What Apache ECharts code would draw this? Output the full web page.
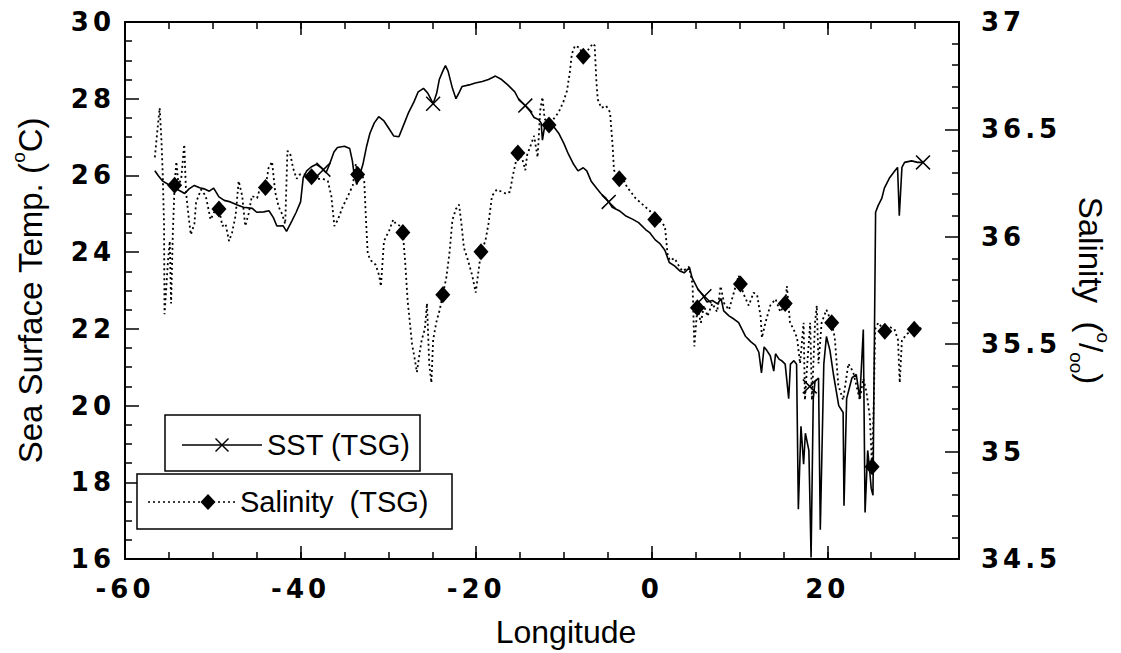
<!DOCTYPE html>
<html>
<head>
<meta charset="utf-8">
<title>SST and Salinity (TSG) vs Longitude</title>
<script src="https://cdn.jsdelivr.net/npm/echarts@6/dist/echarts.min.js"></script>
<style>
  html, body { margin: 0; padding: 0; background: #fff; }
  #chart { width: 1121px; height: 653px; }
  /* tick numbers are set with open tracking */
  #chart svg text[style*="bold"] { letter-spacing: 4px; }
</style>
</head>
<body>
<div id="chart"></div>
<script>
// Thermosalinograph record along the ship track (longitude, degrees)
const sstLon = [
  -56.6,-56.2,-55.7,-55.1,-54.4,-53.6,-53.2,-52.7,-52.1,-51.5,-51.0,-50.4,-49.9,-49.3,-48.7,-48.0,-47.2,-46.5,-45.5,-45.0,
  -44.2,-43.6,-43.1,-42.7,-42.0,-41.6,-41.0,-40.5,-40.0,-39.7,-39.3,-38.8,-38.2,-37.6,-37.1,-36.7,-36.2,-35.8,-35.0,-34.4,
  -34.1,-33.9,-33.6,-33.3,-32.9,-32.5,-32.1,-31.6,-31.1,-30.5,-29.9,-29.4,-28.8,-28.2,-27.7,-27.1,-26.6,-26.0,-25.5,-24.9,
  -24.5,-24.2,-23.8,-23.5,-23.2,-22.7,-22.3,-21.9,-21.6,-20.8,-20.1,-19.3,-18.6,-17.8,-17.1,-16.4,-15.6,-15.1,-14.4,-13.9,
  -13.4,-12.9,-12.6,-12.45,-12.2,-11.7,-11.2,-10.6,-10.0,-9.5,-8.9,-8.4,-7.8,-7.4,-6.9,-6.3,-5.8,-5.2,-4.9,-4.5,
  -3.7,-3.0,-2.2,-1.5,-0.7,-0.2,0.4,0.9,1.5,2.0,2.6,3.2,3.7,4.3,4.6,5.2,5.8,6.3,6.9,7.5,
  7.9,8.2,8.8,9.4,9.9,10.3,10.7,11.3,11.8,12.2,12.5,12.8,13.1,13.5,13.9,14.1,14.5,14.8,15.2,15.6,
  15.8,16.2,16.5,16.7,17.0,17.3,17.5,17.9,18.15,18.4,18.6,19.0,19.2,19.6,19.9,20.3,20.7,21.3,21.8,21.9,
  22.2,22.8,23.3,23.7,24.1,24.3,24.6,24.8,25.0,25.2,25.3,25.5,25.8,26.2,26.5,27.1,27.7,28.0,28.2,28.5,
  28.8,29.6,30.3,30.9
];
// Sea surface temperature, deg C
const sstTemp = [
  26.12,25.99,25.85,25.77,25.68,25.58,25.53,25.65,25.74,25.68,25.65,25.59,25.67,25.44,25.35,25.31,25.23,25.17,25.14,25.04,
  25.05,25.08,24.90,24.68,24.69,24.54,24.81,25.04,25.31,25.94,26.12,26.22,26.29,26.19,26.07,26.29,26.61,26.73,26.76,26.70,
  26.38,26.03,25.76,25.98,26.29,26.74,27.10,27.37,27.53,27.42,27.21,27.03,27.01,27.35,27.64,27.91,28.18,28.27,28.14,27.87,
  28.14,28.50,28.72,28.86,28.72,28.27,28.00,28.18,28.32,28.36,28.41,28.45,28.50,28.59,28.50,28.36,28.18,27.96,27.82,27.69,
  27.51,27.46,27.37,26.92,27.28,27.37,27.28,27.10,26.83,26.56,26.29,26.12,26.20,26.12,25.85,25.67,25.53,25.40,25.31,25.17,
  25.08,24.95,24.86,24.77,24.59,24.50,24.32,24.23,24.05,23.73,23.64,23.51,23.46,23.60,23.33,23.06,22.88,22.70,22.74,22.65,
  22.79,22.47,22.34,22.25,22.16,21.98,21.80,21.66,21.57,21.39,20.85,21.53,21.44,21.30,20.90,21.35,21.21,21.17,21.08,20.18,
  21.08,21.17,21.08,17.30,19.46,18.47,19.28,18.83,16.04,20.18,20.63,20.72,16.76,21.08,21.80,21.44,20.81,20.00,19.82,17.39,
  20.18,20.72,20.81,20.18,21.98,17.21,18.83,18.38,17.84,17.66,20.18,25.04,25.22,25.40,25.67,25.94,26.12,26.21,24.95,26.21,
  26.34,26.38,26.34,26.34
];

const salLon = [
  -56.6,-56.3,-56.05,-55.85,-55.7,-55.55,-55.5,-55.3,-55.1,-54.9,-54.75,-54.55,-54.35,-54.15,-53.9,-53.6,-53.25,-53.05,-52.8,-52.5,
  -52.1,-51.9,-51.35,-50.8,-50.25,-49.65,-49.3,-48.9,-48.55,-48.15,-47.8,-47.4,-47.05,-46.65,-46.3,-45.9,-45.55,-44.95,-44.6,-44.0,
  -43.65,-43.25,-42.9,-42.5,-42.15,-41.75,-41.5,-41.2,-40.85,-40.45,-40.1,-39.5,-38.75,-38.2,-37.45,-36.9,-36.5,-36.15,-35.75,-35.2,
  -34.6,-34.05,-33.7,-33.5,-33.2,-32.75,-32.55,-32.35,-32.0,-31.45,-31.05,-30.85,-30.5,-29.9,-29.45,-29.15,-28.6,-28.35,-28.1,-27.8,
  -27.3,-26.95,-26.75,-26.4,-26.2,-25.85,-25.6,-25.35,-25.1,-24.9,-24.55,-24.15,-23.8,-23.4,-23.05,-22.7,-22.3,-21.95,-21.65,-21.4,
  -21.0,-20.45,-20.05,-19.45,-18.95,-18.6,-18.2,-17.65,-17.1,-16.55,-16.15,-15.8,-15.25,-14.8,-14.4,-14.2,-13.75,-13.4,-13.0,-12.7,
  -12.45,-12.2,-11.7,-11.15,-10.6,-10.05,-9.65,-9.35,-9.1,-8.75,-8.2,-7.8,-7.25,-6.7,-6.5,-6.3,-6.15,-5.75,-5.2,-4.75,
  -4.45,-4.3,-3.7,-3.15,-2.8,-2.4,-1.85,-1.3,-0.75,-0.2,0.35,0.95,1.5,1.8,2.05,2.6,3.15,3.5,4.25,4.65,
  4.85,5.2,5.6,5.95,6.35,6.9,7.45,7.85,8.25,8.8,9.35,9.9,10.1,10.5,11.05,11.6,12.0,12.4,12.55,12.95,
  13.5,14.1,14.65,15.2,15.4,15.75,16.15,16.55,16.9,17.3,17.45,17.65,18.05,18.25,18.6,18.8,19.0,19.35,19.9,20.5,
  20.85,21.25,21.8,22.4,22.95,23.3,23.7,24.1,24.45,24.85,25.1,25.3,25.45,25.8,26.55,27.1,27.65,28.05,28.25,28.5,
  29.15,29.9,30.5,30.9
];
// Salinity, per mil
const salValue = [
  36.37,36.50,36.60,36.45,36.29,36.05,35.64,35.76,35.89,35.98,35.69,36.02,36.24,36.35,36.24,36.27,36.43,36.21,36.11,36.01,
  36.06,36.16,36.22,36.19,36.08,36.13,36.13,36.05,36.06,35.98,36.02,36.10,36.26,36.19,36.05,36.11,36.19,36.18,36.23,36.23,
  36.32,36.35,36.21,36.14,36.11,36.06,36.40,36.39,36.32,36.27,36.29,36.29,36.28,36.27,36.27,36.26,36.19,36.05,36.08,36.14,
  36.19,36.24,36.34,36.29,36.31,36.26,36.08,35.92,35.89,35.87,35.82,35.77,35.98,36.03,36.08,36.06,36.05,36.02,35.89,35.70,
  35.50,35.42,35.37,35.47,35.52,35.57,35.69,35.41,35.32,35.52,35.60,35.66,35.73,35.81,35.92,36.08,36.13,36.15,36.05,35.95,
  35.90,35.82,35.74,35.93,35.98,36.06,36.19,36.22,36.21,36.20,36.21,36.29,36.39,36.37,36.31,36.38,36.43,36.47,36.37,36.59,
  36.65,36.55,36.52,36.55,36.58,36.63,36.68,36.76,36.85,36.89,36.88,36.84,36.87,36.90,36.89,36.72,36.64,36.60,36.61,36.58,
  36.42,36.31,36.27,36.26,36.23,36.21,36.18,36.16,36.14,36.12,36.08,36.07,36.05,35.92,35.89,35.90,35.86,35.84,35.86,35.78,
  35.49,35.67,35.60,35.68,35.63,35.69,35.65,35.77,35.69,35.66,35.74,35.82,35.78,35.73,35.68,35.74,35.73,35.63,35.53,35.60,
  35.68,35.71,35.65,35.69,35.77,35.60,35.57,35.53,35.41,35.60,35.24,35.37,35.60,35.24,35.60,35.68,35.41,35.60,35.66,35.60,
  35.53,35.31,35.24,35.41,35.37,35.31,35.24,35.34,35.28,35.16,34.92,35.24,35.57,35.60,35.56,35.58,35.57,35.52,35.32,35.52,
  35.55,35.57,35.58,35.56
];

// Marker positions along each record
const sstMarkLon  = [-37.4, -24.9, -14.4, -4.9, 6.0, 18.0, 30.9];
const sstMarkTemp = [26.15, 27.87, 27.82, 25.31, 22.85, 20.5, 26.34];
const salMarkLon  = [-54.35,-49.3,-44.0,-38.75,-33.5,-28.35,-23.8,-19.45,-15.25,-11.7,-7.8,-3.7,0.35,5.2,10.1,15.2,20.5,25.1,26.55,29.9];
const salMarkVal  = [36.24,36.13,36.23,36.28,36.29,36.02,35.73,35.93,36.39,36.52,36.84,36.27,36.08,35.67,35.78,35.69,35.60,34.93,35.56,35.57];

// Axis ranges and tick labels
const lonRange = [-60, 35];
const lonLabels = [-60, -40, -20, 0, 20];
const sstRange = [16, 30];
const salRange = [34.5, 37];

const zip = (a, b) => a.map((v, i) => [v, b[i]]);

const FONT = 'Liberation Sans, Arial, sans-serif';
const TICK_FONT = 'DejaVu Sans, Liberation Sans, sans-serif';
const BLACK = '#000';
// thin-armed "x" outline on a 14x14 box
const CROSS_PTS = [[1,0],[7,6],[13,0],[14,1],[8,7],[14,13],[13,14],[7,8],[1,14],[0,13],[6,7],[0,1]];
const CROSS = 'path://M' + CROSS_PTS.map(p => p.join(',')).join(' L') + ' Z';

const chart = echarts.init(document.getElementById('chart'), null, { renderer: 'svg' });

const frameLine = { show: true, onZero: false, lineStyle: { color: BLACK, width: 2 } };
const tickStyle = { color: BLACK, width: 1.5 };

const lonAxisBase = {
  type: 'value', min: lonRange[0], max: lonRange[1],
  splitLine: { show: false }
};

const option = {
  animation: false,
  backgroundColor: '#fff',
  grid: { left: 125, right: 154, top: 22, bottom: 94, containLabel: false },
  xAxis: [
    Object.assign({}, lonAxisBase, {
      position: 'bottom', interval: 5,
      name: 'Longitude', nameLocation: 'middle', nameGap: 57,
      nameTextStyle: { fontFamily: FONT, fontSize: 32, color: BLACK, padding: [0, 0, 0, 48] },
      axisLine: frameLine,
      axisTick: { show: true, inside: true, length: 7, lineStyle: tickStyle },
      axisLabel: {
        margin: 17, fontFamily: TICK_FONT, fontSize: 26, fontWeight: 'bold', color: BLACK,
        formatter: v => (lonLabels.indexOf(v) >= 0 ? String(v) : '')
      }
    }),
    Object.assign({}, lonAxisBase, {
      position: 'bottom', interval: 20,
      axisLine: { show: false, onZero: false },
      axisTick: { show: true, inside: true, length: 13, lineStyle: tickStyle },
      axisLabel: { show: false }
    }),
    Object.assign({}, lonAxisBase, {
      position: 'top', interval: 5,
      axisLine: frameLine,
      axisTick: { show: true, inside: true, length: 7, lineStyle: tickStyle },
      axisLabel: { show: false }
    }),
    Object.assign({}, lonAxisBase, {
      position: 'top', interval: 20,
      axisLine: { show: false, onZero: false },
      axisTick: { show: true, inside: true, length: 13, lineStyle: tickStyle },
      axisLabel: { show: false }
    })
  ],
  yAxis: [
    {
      type: 'value', position: 'left', min: sstRange[0], max: sstRange[1], interval: 2,
      name: 'Sea Surface Temp. ({sup|o}C)', nameLocation: 'middle', nameGap: 74, nameRotate: 90,
      nameTextStyle: {
        fontFamily: FONT, fontSize: 33, color: BLACK, lineHeight: 42,
        rich: { sup: { fontFamily: FONT, fontSize: 19, color: BLACK, verticalAlign: 'top', lineHeight: 42 } }
      },
      splitLine: { show: false },
      axisLine: frameLine,
      axisTick: { show: true, inside: true, length: 14, lineStyle: tickStyle },
      minorTick: { show: true, splitNumber: 4, length: 7, lineStyle: tickStyle },
      axisLabel: { margin: 10, fontFamily: TICK_FONT, fontSize: 26, fontWeight: 'bold', color: BLACK }
    },
    {
      type: 'value', position: 'right', min: salRange[0], max: salRange[1], interval: 0.5,
      name: 'Salinity  ({sup|o}/{sub|oo})', nameLocation: 'middle', nameGap: 108, nameRotate: -90,
      nameTextStyle: {
        fontFamily: FONT, fontSize: 33, color: BLACK, lineHeight: 46,
        rich: {
          sup: { fontFamily: FONT, fontSize: 19, color: BLACK, verticalAlign: 'top', lineHeight: 46 },
          sub: { fontFamily: FONT, fontSize: 19, color: BLACK, verticalAlign: 'bottom', lineHeight: 46 }
        }
      },
      splitLine: { show: false },
      axisLine: frameLine,
      axisTick: { show: true, inside: true, length: 14, lineStyle: tickStyle },
      minorTick: { show: true, splitNumber: 5, length: 7, lineStyle: tickStyle },
      axisLabel: { margin: 22, fontFamily: TICK_FONT, fontSize: 26, fontWeight: 'bold', color: BLACK }
    }
  ],
  series: [
    {
      name: 'SST (TSG)', type: 'line', xAxisIndex: 0, yAxisIndex: 0,
      data: zip(sstLon, sstTemp), showSymbol: false, symbol: 'none',
      lineStyle: { color: BLACK, width: 1.6 }, z: 3
    },
    {
      name: 'Salinity  (TSG)', type: 'line', xAxisIndex: 0, yAxisIndex: 1,
      data: zip(salLon, salValue), showSymbol: false, symbol: 'none',
      lineStyle: { color: BLACK, width: 1.8, type: [2, 3] }, z: 2
    },
    {
      type: 'scatter', xAxisIndex: 0, yAxisIndex: 0,
      data: zip(sstMarkLon, sstMarkTemp), symbol: CROSS, symbolSize: 15,
      itemStyle: { color: BLACK, opacity: 1 }, z: 4
    },
    {
      type: 'scatter', xAxisIndex: 0, yAxisIndex: 1,
      data: zip(salMarkLon, salMarkVal), symbol: 'diamond', symbolSize: [15, 17],
      itemStyle: { color: BLACK, opacity: 1 }, z: 4
    }
  ],
  graphic: [
    // legend: temperature entry
    { type: 'rect', z: 100, shape: { x: 165, y: 415, width: 255, height: 56 },
      style: { fill: '#fff', stroke: BLACK, lineWidth: 1.5 } },
    { type: 'line', z: 101, shape: { x1: 182, y1: 445, x2: 262, y2: 445 },
      style: { stroke: BLACK, lineWidth: 1.5 } },
    { type: 'polygon', z: 102, shape: { points: CROSS_PTS.map(p => [p[0] + 215, p[1] + 438]) },
      style: { fill: BLACK } },
    { type: 'text', z: 101, x: 267, y: 445,
      style: { text: 'SST (TSG)', font: '29px ' + FONT, fill: BLACK, textVerticalAlign: 'middle' } },
    // legend: salinity entry
    { type: 'rect', z: 100, shape: { x: 137, y: 474, width: 315, height: 55 },
      style: { fill: '#fff', stroke: BLACK, lineWidth: 1.5 } },
    { type: 'line', z: 101, shape: { x1: 148, y1: 502, x2: 236, y2: 502 },
      style: { stroke: BLACK, lineWidth: 1.5, lineDash: [2, 3] } },
    { type: 'polygon', z: 102, shape: { points: [[208, 494], [215.5, 502], [208, 510], [200.5, 502]] },
      style: { fill: BLACK } },
    { type: 'text', z: 101, x: 240, y: 502,
      style: { text: 'Salinity  (TSG)', font: '29px ' + FONT, fill: BLACK, textVerticalAlign: 'middle' } }
  ]
};

chart.setOption(option);
</script>
</body>
</html>
